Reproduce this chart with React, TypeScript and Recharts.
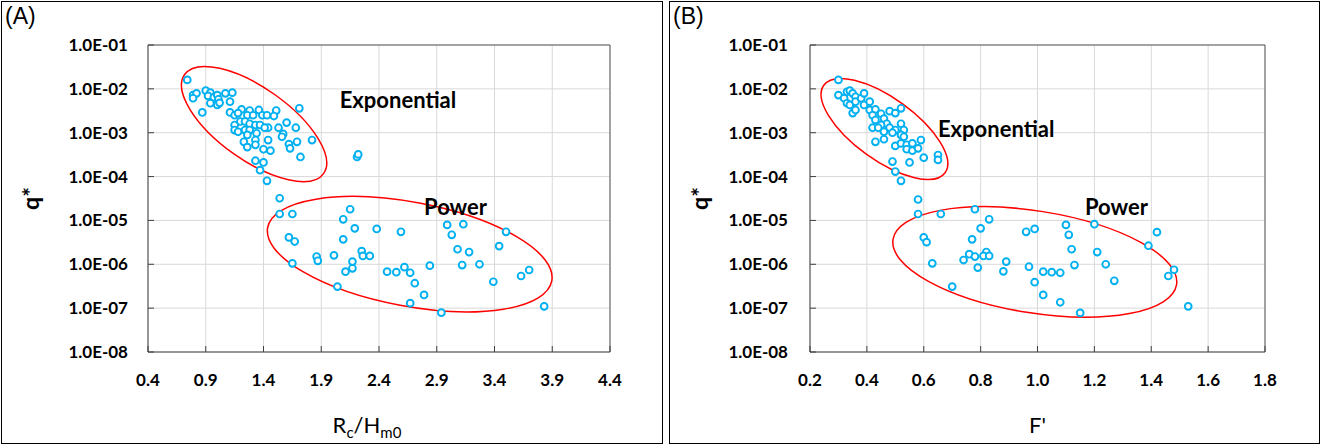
import React from 'react'
import {
  ScatterChart,
  Scatter,
  XAxis,
  YAxis,
  CartesianGrid,
  ReferenceArea,
  ReferenceDot,
  ReferenceLine
} from 'recharts'

// q* ticks shared by both panels
const qTicks = [1e-8, 1e-7, 1e-6, 1e-5, 1e-4, 1e-3, 1e-2, 1e-1]
const rcTicks = [0.4, 0.9, 1.4, 1.9, 2.4, 2.9, 3.4, 3.9, 4.4]
const fTicks = [0.2, 0.4, 0.6, 0.8, 1.0, 1.2, 1.4, 1.6, 1.8]

// panel A: [Rc/Hm0, q*]
const rcExponential = [
  [0.74, 1.6e-2], [0.79, 7.2e-3], [0.82, 7.9e-3], [0.79, 6.1e-3], [0.9, 9.1e-3],
  [0.94, 8.2e-3], [0.92, 6.9e-3], [0.97, 6.4e-3], [1.0, 7.2e-3], [1.01, 5.8e-3],
  [0.94, 4.7e-3], [1.0, 4.3e-3], [1.02, 4.8e-3], [1.07, 7.9e-3], [1.13, 8.2e-3],
  [1.11, 5.1e-3], [0.87, 2.9e-3], [1.11, 2.9e-3], [1.15, 2.5e-3], [1.21, 3.4e-3],
  [1.18, 2.8e-3], [1.28, 3.2e-3], [1.26, 2.5e-3], [1.31, 2.5e-3], [1.36, 3.3e-3],
  [1.39, 2.5e-3], [1.43, 2.5e-3], [1.51, 3.2e-3], [1.49, 2.4e-3], [1.71, 3.6e-3],
  [1.15, 1.5e-3], [1.2, 1.8e-3], [1.24, 1.8e-3], [1.28, 1.6e-3], [1.33, 1.5e-3],
  [1.37, 1.5e-3], [1.44, 1.3e-3], [1.41, 1.3e-3], [1.15, 1.15e-3], [1.18, 1.05e-3],
  [1.24, 1.15e-3], [1.28, 1.15e-3], [1.34, 9.7e-4], [1.26, 8.9e-4], [1.53, 1.3e-3],
  [1.6, 1.7e-3], [1.68, 1.3e-3], [1.57, 9.4e-4], [1.56, 8.1e-4], [1.23, 6.2e-4],
  [1.33, 6.8e-4], [1.44, 6.8e-4], [1.69, 6.2e-4], [1.82, 6.8e-4], [1.26, 4.7e-4],
  [1.33, 5.3e-4], [1.4, 4.2e-4], [1.46, 3.9e-4], [1.62, 5.5e-4], [1.63, 4.4e-4],
  [1.72, 2.8e-4], [1.33, 2.3e-4], [1.4, 2.1e-4], [1.37, 1.4e-4], [1.43, 8.0e-5],
  [2.21, 2.8e-4], [2.22, 3.2e-4]
]

const rcPower = [
  [1.54, 3.2e-5], [1.54, 1.4e-5], [1.65, 1.4e-5], [1.62, 4.1e-6], [1.67, 3.3e-6],
  [1.65, 1.05e-6], [1.86, 1.5e-6], [1.87, 1.2e-6], [2.04, 3.1e-7], [2.01, 1.6e-6],
  [2.09, 3.7e-6], [2.09, 1.06e-5], [2.15, 1.8e-5], [2.19, 6.6e-6], [2.11, 6.8e-7],
  [2.17, 8.1e-7], [2.17, 1.15e-6], [2.25, 2.0e-6], [2.26, 1.55e-6], [2.32, 1.55e-6],
  [2.38, 6.4e-6], [2.59, 5.5e-6], [2.47, 6.8e-7], [2.55, 6.6e-7], [2.62, 8.6e-7],
  [2.67, 6.4e-7], [2.71, 3.7e-7], [2.67, 1.3e-7], [2.79, 2.0e-7], [2.84, 9.3e-7],
  [2.94, 7.9e-8], [2.99, 7.9e-6], [3.03, 4.7e-6], [3.13, 8.2e-6], [3.08, 2.2e-6],
  [3.18, 1.9e-6], [3.12, 9.6e-7], [3.27, 1.0e-6], [3.39, 4.0e-7], [3.5, 5.5e-6],
  [3.44, 2.6e-6], [3.63, 5.4e-7], [3.7, 7.4e-7], [3.83, 1.1e-7]
]

// panel B: [F', q*]
const fExponential = [
  [0.3, 1.6e-2], [0.3, 7.2e-3], [0.32, 6.1e-3], [0.33, 8.6e-3], [0.34, 9.1e-3],
  [0.35, 7.9e-3], [0.36, 6.6e-3], [0.33, 4.7e-3], [0.34, 4.3e-3], [0.36, 5.1e-3],
  [0.38, 6.1e-3], [0.39, 7.9e-3], [0.35, 2.8e-3], [0.36, 3.3e-3], [0.39, 4.3e-3],
  [0.41, 5.1e-3], [0.41, 3.3e-3], [0.43, 3.4e-3], [0.42, 2.5e-3], [0.45, 2.7e-3],
  [0.48, 3.1e-3], [0.5, 2.8e-3], [0.52, 3.6e-3], [0.43, 1.95e-3], [0.46, 2.1e-3],
  [0.47, 1.6e-3], [0.45, 1.5e-3], [0.42, 1.3e-3], [0.44, 1.3e-3], [0.48, 1.3e-3],
  [0.5, 1.15e-3], [0.52, 1.6e-3], [0.53, 1.15e-3], [0.46, 1.05e-3], [0.49, 1.0e-3],
  [0.52, 8.9e-4], [0.43, 6.2e-4], [0.46, 7.1e-4], [0.53, 8.1e-4], [0.5, 5.0e-4],
  [0.52, 5.7e-4], [0.54, 5.3e-4], [0.54, 4.2e-4], [0.56, 5.7e-4], [0.56, 3.9e-4],
  [0.58, 4.4e-4], [0.59, 6.8e-4], [0.6, 2.7e-4], [0.65, 3.1e-4], [0.65, 2.4e-4],
  [0.49, 2.2e-4], [0.55, 2.1e-4], [0.5, 1.3e-4], [0.52, 8.0e-5]
]

const fPower = [
  [0.58, 3.0e-5], [0.58, 1.4e-5], [0.66, 1.4e-5], [0.6, 4.1e-6], [0.61, 3.2e-6],
  [0.63, 1.05e-6], [0.7, 3.1e-7], [0.78, 1.8e-5], [0.8, 6.6e-6], [0.83, 1.06e-5],
  [0.77, 3.7e-6], [0.74, 1.25e-6], [0.76, 1.7e-6], [0.78, 1.5e-6], [0.79, 8.4e-7],
  [0.82, 1.9e-6], [0.81, 1.55e-6], [0.83, 1.55e-6], [0.89, 1.15e-6], [0.88, 6.9e-7],
  [0.96, 5.5e-6], [0.99, 6.4e-6], [0.97, 8.8e-7], [0.99, 3.9e-7], [1.02, 6.8e-7],
  [1.05, 6.6e-7], [1.02, 2.0e-7], [1.08, 6.4e-7], [1.08, 1.36e-7], [1.1, 7.9e-6],
  [1.11, 4.7e-6], [1.12, 2.2e-6], [1.13, 9.6e-7], [1.15, 7.8e-8], [1.2, 8.2e-6],
  [1.21, 1.9e-6], [1.24, 1.0e-6], [1.27, 4.2e-7], [1.39, 2.65e-6], [1.42, 5.4e-6],
  [1.46, 5.4e-7], [1.48, 7.5e-7], [1.53, 1.1e-7]
]

const toPoints = (pairs: number[][]) => pairs.map(([x, q]) => ({ x, q }))

const fmtQ = (v: number) => {
  const e = Math.round(Math.log10(v))
  return `1.0E${e < 0 ? '-' : '+'}${String(Math.abs(e)).padStart(2, '0')}`
}

const CYAN = '#00b0f0'
const FONT = 'Lato, "Open Sans", sans-serif'

const Ring = (props: any) => {
  const { cx, cy } = props
  if (cx == null || cy == null) return null
  return <circle cx={cx} cy={cy} r={3.4} fill="#fff" stroke={CYAN} strokeWidth={1.9} />
}

// ellipse whose major axis runs along the diagonal of the reference area
const ellipseShape = (ry: number) => (props: any) => {
  const { x, y, width, height } = props
  const cx = x + width / 2
  const cy = y + height / 2
  const rx = Math.sqrt(width * width + height * height) / 2
  const ang = (Math.atan2(height, width) * 180) / Math.PI
  return (
    <ellipse
      cx={cx}
      cy={cy}
      rx={rx}
      ry={ry}
      transform={`rotate(${ang} ${cx} ${cy})`}
      fill="none"
      stroke="#ff0000"
      strokeWidth={1.5}
    />
  )
}

const textShape = (txt: string) => (props: any) => (
  <text
    x={props.cx}
    y={props.cy}
    dominantBaseline="central"
    fontFamily={FONT}
    fontWeight={700}
    fontSize={22}
    fill="#000"
  >
    {txt}
  </text>
)

const tickStyle = { fill: '#000', fontSize: 17, fontWeight: 700, fontFamily: FONT }

const QLabel = (props: any) => {
  const vb = props.viewBox || {}
  const cy = (vb.y || 0) + (vb.height || 0) / 2
  return (
    <text
      x={30}
      y={cy}
      transform={`rotate(-90 30 ${cy})`}
      textAnchor="middle"
      dominantBaseline="central"
      fontFamily={FONT}
      fontWeight={700}
      fontSize={23}
      fill="#000"
    >
      q*
    </text>
  )
}

const RcLabel = (props: any) => {
  const vb = props.viewBox || {}
  const cx = (vb.x || 0) + (vb.width || 0) / 2 - 12
  return (
    <text x={cx} y={(vb.y || 0) + 81} textAnchor="middle" fontFamily={FONT} fontSize={22} fill="#000">
      <tspan>R</tspan>
      <tspan dy={5} fontSize={15}>c</tspan>
      <tspan dy={-5}>/H</tspan>
      <tspan dy={5} fontSize={15}>m0</tspan>
    </text>
  )
}

const FLabel = (props: any) => {
  const vb = props.viewBox || {}
  const cx = (vb.x || 0) + (vb.width || 0) / 2
  return (
    <text x={cx} y={(vb.y || 0) + 81} textAnchor="middle" fontFamily={FONT} fontSize={22} fill="#000">
      F'
    </text>
  )
}

const panelBox: React.CSSProperties = {
  position: 'absolute',
  top: 1,
  height: 443,
  border: '1px solid #000',
  boxSizing: 'border-box'
}

const panelTag: React.CSSProperties = {
  position: 'absolute',
  top: 3,
  fontFamily: '"Liberation Sans", Arial, sans-serif',
  fontSize: 23,
  color: '#000'
}

export default function App() {
  return (
    <div style={{ position: 'absolute', left: 0, top: 0, width: 1321, height: 444, background: '#fff' }}>
      <div style={{ ...panelBox, left: 1, width: 662 }} />
      <div style={{ ...panelBox, left: 669, width: 651 }} />
      <div style={{ ...panelTag, left: 5 }}>(A)</div>
      <div style={{ ...panelTag, left: 673 }}>(B)</div>

      <div style={{ position: 'absolute', left: 0, top: 0 }}>
        <ScatterChart width={662} height={444} margin={{ top: 45, right: 52, bottom: 0, left: 0 }}>
          <CartesianGrid stroke="#d9d9d9" />
          <XAxis
            type="number"
            dataKey="x"
            domain={[0.4, 4.4]}
            ticks={rcTicks}
            tickFormatter={(v: number) => v.toFixed(1)}
            allowDataOverflow
            height={92}
            tick={tickStyle}
            tickSize={-6}
            tickMargin={28}
            axisLine={{ stroke: '#404040' }}
            tickLine={{ stroke: '#404040' }}
            label={<RcLabel />}
          />
          <YAxis
            type="number"
            dataKey="q"
            scale="log"
            domain={[1e-8, 1e-1]}
            ticks={qTicks}
            tickFormatter={fmtQ}
            allowDataOverflow
            width={148}
            tick={tickStyle}
            tickSize={-6}
            tickMargin={26}
            axisLine={{ stroke: '#404040' }}
            tickLine={{ stroke: '#404040' }}
            label={<QLabel />}
          />
          <ReferenceLine y={1e-1} stroke="#595959" />
          <ReferenceLine x={4.4} stroke="#595959" />
          <Scatter data={toPoints(rcExponential)} shape={Ring} isAnimationActive={false} />
          <Scatter data={toPoints(rcPower)} shape={Ring} isAnimationActive={false} />
          <ReferenceArea x1={0.717} x2={1.92} y1={2.12e-2} y2={1.17e-4} shape={ellipseShape(36)} />
          <ReferenceArea x1={1.436} x2={3.896} y1={6.9e-6} y2={4.18e-7} shape={ellipseShape(52)} />
          <ReferenceDot x={2.06} y={5.6e-3} shape={textShape('Exponential')} />
          <ReferenceDot x={2.79} y={2.13e-5} shape={textShape('Power')} />
        </ScatterChart>
      </div>

      <div style={{ position: 'absolute', left: 669, top: 0 }}>
        <ScatterChart width={651} height={444} margin={{ top: 45, right: 55, bottom: 0, left: 0 }}>
          <CartesianGrid stroke="#d9d9d9" />
          <XAxis
            type="number"
            dataKey="x"
            domain={[0.2, 1.8]}
            ticks={fTicks}
            tickFormatter={(v: number) => v.toFixed(1)}
            allowDataOverflow
            height={92}
            tick={tickStyle}
            tickSize={-6}
            tickMargin={28}
            axisLine={{ stroke: '#404040' }}
            tickLine={{ stroke: '#404040' }}
            label={<FLabel />}
          />
          <YAxis
            type="number"
            dataKey="q"
            scale="log"
            domain={[1e-8, 1e-1]}
            ticks={qTicks}
            tickFormatter={fmtQ}
            allowDataOverflow
            width={141}
            tick={tickStyle}
            tickSize={-6}
            tickMargin={28}
            axisLine={{ stroke: '#404040' }}
            tickLine={{ stroke: '#404040' }}
            label={<QLabel />}
          />
          <ReferenceLine y={1e-1} stroke="#595959" />
          <ReferenceLine x={1.8} stroke="#595959" />
          <Scatter data={toPoints(fExponential)} shape={Ring} isAnimationActive={false} />
          <Scatter data={toPoints(fPower)} shape={Ring} isAnimationActive={false} />
          <ReferenceArea x1={0.2485} x2={0.675} y1={1.21e-2} y2={1.22e-4} shape={ellipseShape(31)} />
          <ReferenceArea x1={0.492} x2={1.489} y1={3.7e-6} y2={3.44e-7} shape={ellipseShape(51)} />
          <ReferenceDot x={0.65} y={1.28e-3} shape={textShape('Exponential')} />
          <ReferenceDot x={1.167} y={2.13e-5} shape={textShape('Power')} />
        </ScatterChart>
      </div>
    </div>
  )
}
